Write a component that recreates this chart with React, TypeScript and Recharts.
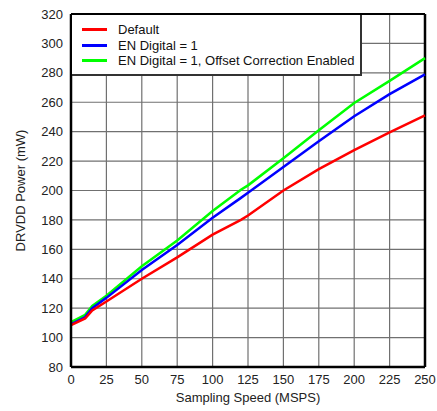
import React from 'react';
import { LineChart, Line, XAxis, YAxis, CartesianGrid, ReferenceLine } from 'recharts';

const speeds = [0, 10, 15, 25, 50, 75, 100, 120, 125, 150, 175, 200, 225, 250];
const defaultPower = [108.5, 113, 118.5, 124.5, 140, 154.5, 170, 180, 183, 200, 214.5, 227.5, 239.5, 251];
const enDigitalPower = [109, 114, 120, 127, 146, 163, 181.5, 195, 198.5, 216, 233.5, 250.5, 265.5, 279];
const offsetCorrPower = [110.5, 115.5, 121.5, 128.5, 148.5, 166, 186, 200.5, 203.5, 222, 241, 259.5, 274.5, 290];

const xTicks = [0, 25, 50, 75, 100, 125, 150, 175, 200, 225, 250];
const yTicks = [80, 100, 120, 140, 160, 180, 200, 220, 240, 260, 280, 300, 320];

const series = [
  { key: 'def', name: 'Default', color: '#ff0000' },
  { key: 'en', name: 'EN Digital = 1', color: '#0000ff' },
  { key: 'off', name: 'EN Digital = 1, Offset Correction Enabled', color: '#00ff00' },
];

const data = speeds.map((s, i) => ({
  speed: s,
  def: defaultPower[i],
  en: enDigitalPower[i],
  off: offsetCorrPower[i],
}));

const font = 'Arial, "Liberation Sans", sans-serif';

const LegendBox = () => (
  <div
    style={{
      position: 'absolute',
      left: 72,
      top: 15,
      background: '#fff',
      borderRight: '2px solid #333',
      borderBottom: '2px solid #333',
      width: 290,
      height: 61,
      boxSizing: 'border-box',
      padding: '7px 0 0 10px',
      fontFamily: font,
      fontSize: 13,
      color: '#111',
    }}
  >
    {series.map((s) => (
      <div key={s.key} style={{ display: 'flex', alignItems: 'center', height: 15.5 }}>
        <span style={{ display: 'inline-block', width: 25, height: 3, background: s.color, marginRight: 11 }} />
        <span>{s.name}</span>
      </div>
    ))}
  </div>
);

export default function App() {
  return (
    <div style={{ position: 'fixed', left: 0, top: 0, width: 437, height: 411, background: '#fff' }}>
      <LineChart width={437} height={411} data={data} margin={{ top: 14, right: 12, bottom: 0, left: 0 }}>
        <CartesianGrid stroke="#707070" strokeWidth={1.2} />
        <XAxis
          dataKey="speed"
          type="number"
          domain={[0, 250]}
          ticks={xTicks}
          tickLine={false}
          axisLine={{ stroke: '#000', strokeWidth: 2.5 }}
          tick={{ fill: '#222', fontSize: 13, fontFamily: font }}
          height={44}
          label={{ value: 'Sampling Speed (MSPS)', position: 'insideBottom', offset: 9, fill: '#222', fontSize: 13, fontFamily: font }}
        />
        <YAxis
          type="number"
          domain={[80, 320]}
          ticks={yTicks}
          tickLine={false}
          axisLine={{ stroke: '#000', strokeWidth: 2.5 }}
          tick={{ fill: '#222', fontSize: 13, fontFamily: font }}
          width={71}
          label={{ value: 'DRVDD Power (mW)', angle: -90, position: 'insideLeft', offset: 20, fill: '#222', fontSize: 13, fontFamily: font, style: { textAnchor: 'middle' } }}
        />
        <ReferenceLine y={320} stroke="#000" strokeWidth={2} />
        <ReferenceLine x={250} stroke="#000" strokeWidth={2.5} />
        <Line dataKey="off" name={series[2].name} stroke={series[2].color} strokeWidth={2.5} dot={false} isAnimationActive={false} />
        <Line dataKey="en" name={series[1].name} stroke={series[1].color} strokeWidth={2.5} dot={false} isAnimationActive={false} />
        <Line dataKey="def" name={series[0].name} stroke={series[0].color} strokeWidth={2.5} dot={false} isAnimationActive={false} />
      </LineChart>
      <LegendBox />
    </div>
  );
}
